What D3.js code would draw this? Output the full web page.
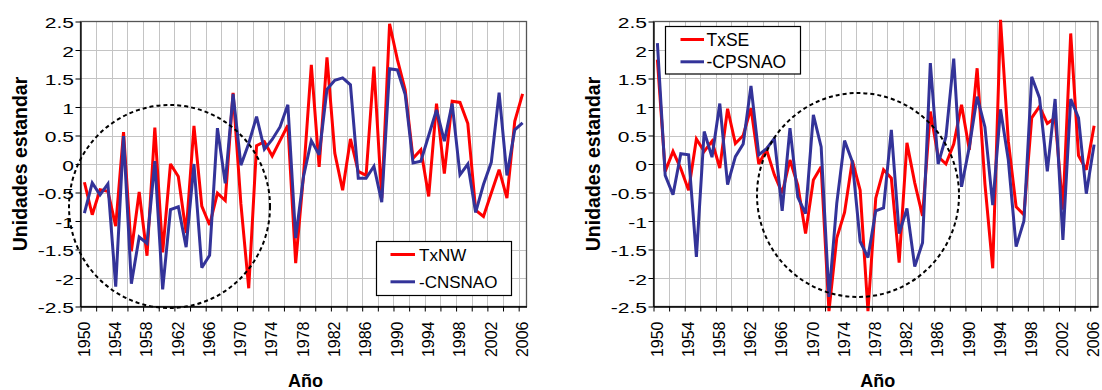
<!DOCTYPE html>
<html><head><meta charset="utf-8">
<script src="https://cdn.jsdelivr.net/npm/d3@7"></script>
<style>
body{margin:0;background:#fff}
svg{display:block}
text{font-family:"Liberation Sans",Arial,sans-serif;fill:#000}
</style>
</head><body>
<svg id="c" width="1102" height="390"></svg>
<script>
// ---------- data ----------
const years = d3.range(1950, 2007);
const xTickLabels = [1950,1954,1958,1962,1966,1970,1974,1978,1982,1986,1990,1994,1998,2002,2006];
const yTicks = [-2.5,-2,-1.5,-1,-0.5,0,0.5,1,1.5,2,2.5];

const txNW = [-0.32,-0.89,-0.45,-0.48,-1.09,0.56,-1.53,-0.49,-1.61,0.64,
  -1.55,0.00,-0.22,-1.21,0.67,-0.74,-1.07,-0.51,-0.64,1.25,
  -0.70,-2.18,0.32,0.39,0.14,0.41,0.68,-1.74,-0.20,1.74,
  -0.05,1.87,0.19,-0.46,0.44,-0.13,-0.20,1.71,-0.60,2.46,
  1.83,1.30,0.10,0.25,-0.57,1.06,-0.17,1.10,1.08,0.71,
  -0.81,-0.92,-0.51,-0.10,-0.60,0.75,1.23];
const cnsnao = [-0.86,-0.33,-0.54,-0.35,-2.15,0.49,-2.10,-1.28,-1.39,0.05,
  -2.20,-0.80,-0.75,-1.46,0.00,-1.82,-1.60,0.63,-0.34,1.23,
  -0.02,0.36,0.83,0.26,0.43,0.65,1.04,-1.30,-0.22,0.41,
  0.16,1.31,1.47,1.51,1.39,-0.25,-0.25,-0.04,-0.67,1.67,
  1.65,1.22,0.02,0.05,0.50,0.95,0.40,1.06,-0.19,0.00,
  -0.85,-0.36,0.03,1.25,-0.20,0.60,0.72];
const txSE = [1.83,-0.13,0.22,-0.08,-0.46,0.44,0.22,0.40,-0.07,0.97,
  0.36,0.50,0.98,0.00,0.25,-0.19,-0.51,0.07,-0.37,-1.22,
  -0.28,-0.05,-2.58,-1.30,-0.85,0.06,-0.46,-2.58,-0.60,-0.10,
  -0.25,-1.73,0.37,-0.33,-0.91,0.92,0.13,0.00,0.35,1.04,
  0.25,1.68,-0.35,-1.83,2.53,0.40,-0.75,-0.89,0.81,1.01,
  0.71,0.81,-0.80,2.29,0.15,-0.10,0.67];
const cpsnao = [2.12,-0.20,-0.54,0.18,0.16,-1.63,0.57,0.12,1.06,-0.36,
  0.13,0.35,1.37,0.16,0.27,0.45,-0.82,0.63,-0.58,-0.87,
  0.86,0.30,-2.33,-0.69,0.41,0.04,-1.36,-1.64,-0.82,-0.77,
  0.60,-1.22,-0.78,-1.80,-1.38,1.77,0.00,0.48,1.85,-0.40,
  0.30,1.18,0.65,-0.72,0.96,0.07,-1.45,-1.00,1.53,1.16,
  -0.13,1.14,-1.33,1.14,0.81,-0.52,0.34];

const yTitle = "Unidades estandar";
const xTitle = "Año";
const RED = "#ff0000", BLUE = "#333399";

// ---------- drawing ----------
const svg = d3.select("#c");
const yTop = 21.5, yBot = 306.5;
const y = d3.scaleLinear().domain([-2.5, 2.5]).range([yBot, yTop]);

function panel(o) {
  const x = d3.scaleBand().domain(years).range([o.x0, o.x1]);
  const cx = d => x(d) + x.bandwidth() / 2;
  const g = svg.append("g");

  // horizontal gridlines
  g.append("g").selectAll("line").data(yTicks.slice(1, -1)).join("line")
    .attr("x1", o.x0).attr("x2", o.x1)
    .attr("y1", d => Math.round(y(d)) + 0.5).attr("y2", d => Math.round(y(d)) + 0.5)
    .attr("stroke", "#c4c4c4").attr("stroke-width", 1);
  // vertical gridlines at every second category boundary
  const bIdx = d3.range(2, 57, 2);
  const bx = d3.scaleLinear().domain([0, 57]).range([o.x0, o.x1]);
  g.append("g").selectAll("line").data(bIdx).join("line")
    .attr("x1", d => Math.round(bx(d)) + 0.5).attr("x2", d => Math.round(bx(d)) + 0.5)
    .attr("y1", yTop).attr("y2", yBot)
    .attr("stroke", "#c4c4c4").attr("stroke-width", 1);

  // frame
  g.append("rect").attr("x", o.x0).attr("y", yTop).attr("width", o.x1 - o.x0).attr("height", yBot - yTop)
    .attr("fill", "none").attr("stroke", "#555").attr("stroke-width", 1.3);

  // series
  const line = d3.line().x((d, i) => cx(years[i])).y(d => y(d));
  o.series.forEach(s => {
    g.append("path").datum(s.values).attr("d", line)
      .attr("fill", "none").attr("stroke", s.color).attr("stroke-width", 3)
      .attr("stroke-linejoin", "miter").attr("stroke-miterlimit", 3);
  });

  // y axis
  const ya = g.append("g").attr("transform", `translate(${o.x0},0)`)
    .call(d3.axisLeft(y).tickValues(yTicks).tickSize(5).tickSizeOuter(0).tickFormat(d => String(d)));
  ya.select(".domain").attr("stroke", "#000").attr("stroke-width", 1.3);
  ya.selectAll(".tick line").attr("stroke", "#000");
  const sx = 1.45;
  ya.selectAll(".tick text").attr("font-size", "14.5px").attr("font-family", null)
    .attr("x", -6.5 / sx).attr("dy", "0.42em").attr("transform", `scale(${sx},1)`).attr("fill", "#000");

  // x axis tick marks (category boundaries)
  const xt = g.append("g").attr("transform", `translate(0,${yBot})`)
    .call(d3.axisBottom(bx).tickValues(d3.range(0, 57, 2)).tickSize(5).tickSizeOuter(0).tickFormat(""));
  xt.select(".domain").attr("stroke", "#000").attr("stroke-width", 1.3);
  xt.selectAll(".tick line").attr("stroke", "#000");

  // x axis labels (category centres)
  const xl = g.append("g").attr("transform", `translate(0,${yBot})`)
    .call(d3.axisBottom(x).tickValues(xTickLabels).tickSize(0).tickSizeOuter(0));
  xl.select(".domain").remove();
  xl.selectAll(".tick text").attr("font-size", "16px").attr("font-family", null)
    .attr("transform", "rotate(-90)").attr("text-anchor", "end")
    .attr("x", -15).attr("y", 0).attr("dy", "0.33em").attr("fill", "#000");

  // titles
  g.append("text").attr("transform", `translate(${o.yTitleX},${(yTop + yBot) / 2}) rotate(-90)`)
    .attr("text-anchor", "middle").attr("font-weight", "bold").attr("font-size", "19.5px").text(yTitle);
  g.append("text").attr("x", (o.x0 + o.x1) / 2 + 2).attr("y", 387)
    .attr("text-anchor", "middle").attr("font-weight", "bold").attr("font-size", "18px").text(xTitle);

  // dashed ellipse
  g.append("ellipse").attr("cx", o.ell[0]).attr("cy", o.ell[1]).attr("rx", o.ell[2]).attr("ry", o.ell[3])
    .attr("fill", "none").attr("stroke", "#000").attr("stroke-width", 2).attr("stroke-dasharray", "4,3");

  // legend
  const L = o.legend;
  const lg = g.append("g");
  lg.append("rect").attr("x", L.x).attr("y", L.y).attr("width", L.w).attr("height", L.h)
    .attr("fill", "#fff").attr("stroke", "#000").attr("stroke-width", 1.2);
  o.series.forEach((s, i) => {
    const ly = L.y + L.first + i * L.gap;
    lg.append("line").attr("x1", L.x + L.lx1).attr("x2", L.x + L.lx2).attr("y1", ly).attr("y2", ly)
      .attr("stroke", s.color).attr("stroke-width", 3);
    lg.append("text").attr("x", L.x + L.tx).attr("y", ly + 6).attr("font-size", L.fs).text(s.name);
  });
}

panel({
  x0: 80.5, x1: 526.5, yTitleX: 26.5,
  series: [{name: "TxNW", values: txNW, color: RED}, {name: "-CNSNAO", values: cnsnao, color: BLUE}],
  ell: [169.5, 206.5, 100.5, 101.5],
  legend: {x: 376.5, y: 241.5, w: 135, h: 54, first: 13, gap: 27.3, lx1: 14, lx2: 38.5, tx: 42.5, fs: "17px"}
});
panel({
  x0: 653.5, x1: 1098, yTitleX: 599.5,
  series: [{name: "TxSE", values: txSE, color: RED}, {name: "-CPSNAO", values: cpsnao, color: BLUE}],
  ell: [858, 195, 101, 102],
  legend: {x: 665.5, y: 26.5, w: 135, h: 47.5, first: 13, gap: 22.3, lx1: 15, lx2: 38.5, tx: 41, fs: "17.5px"}
});
</script>
</body></html>
